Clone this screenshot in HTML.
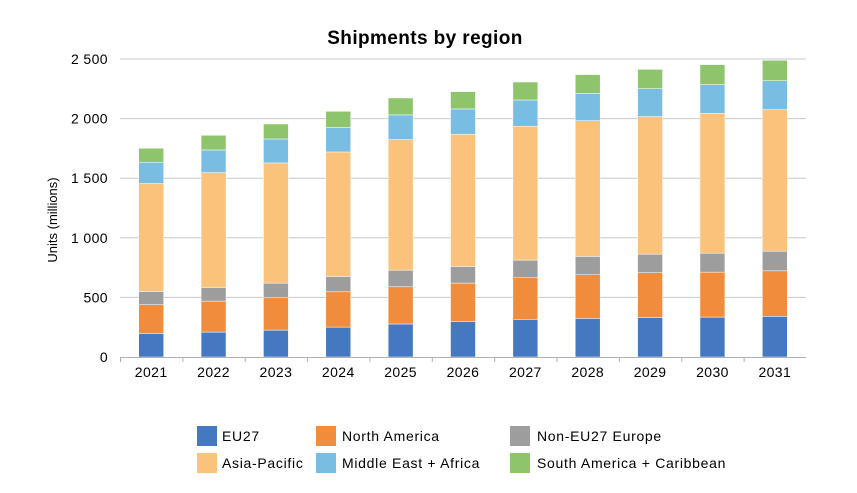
<!DOCTYPE html>
<html><head><meta charset="utf-8"><style>
body{margin:0;background:#fff;font-family:"Liberation Sans",sans-serif;}
svg{display:block}
</style></head><body>
<svg id="chart" width="857" height="493">
<text x="425" y="44" text-anchor="middle" font-size="19" font-weight="bold" fill="#000" letter-spacing="0.4">Shipments by region</text>
<text transform="translate(57,220) rotate(-90)" text-anchor="middle" font-size="13" fill="#000">Units (millions)</text>
<g id="grid"></g><g id="bars"></g><g id="axes"></g><g id="legend"></g>
</svg>
<script>
const categories=["2021","2022","2023","2024","2025","2026","2027","2028","2029","2030","2031"];
const seriesNames=["EU27","North America","Non-EU27 Europe","Asia-Pacific","Middle East + Africa","South America + Caribbean"];
const colors=["#4479c1","#f08c3c","#9d9d9d","#fac27a","#79bde3","#8ec56c"];
const eu27=[198,209,226,251,277,296,316,324,332,335,341];
const northAmerica=[241,260,271,296,312,324,349,366,375,377,382];
const nonEu27=[111,115,123,129,140,140,148,154,156,159,165];
const asiaPacific=[905,963,1008,1044,1095,1109,1123,1139,1154,1174,1187];
const middleEastAfrica=[179,190,201,205,207,212,220,229,234,240,243];
const southAmerica=[117,123,126,136,142,145,151,157,162,168,171];
const yTicks=[0,500,1000,1500,2000,2500];
const yTickLabels=["0","500","1 000","1 500","2 000","2 500"];
const series=[eu27,northAmerica,nonEu27,asiaPacific,middleEastAfrica,southAmerica];
const NS="http://www.w3.org/2000/svg";
const L=120,R=806,T=59,B=357,yMax=2500;
const y=v=>B-(v/yMax)*(B-T);
const bw=(R-L)/categories.length;
const x=i=>L+bw*i;
function mk(tag,attrs,parent,text){const e=document.createElementNS(NS,tag);for(const k in attrs)e.setAttribute(k,attrs[k]);if(text!==undefined)e.textContent=text;parent.appendChild(e);return e;}
const grid=document.getElementById('grid'),bars=document.getElementById('bars'),axes=document.getElementById('axes'),legend=document.getElementById('legend');
yTicks.forEach((t,i)=>{
  if(t>0){const g=mk('line',{x1:L,x2:R,y1:y(t),y2:y(t),stroke:'#c8c8c8','stroke-width':1},grid);
  
  }
  const tl=mk('text',{x:108,y:y(t)+5,'text-anchor':'end','font-size':14,fill:'#000','letter-spacing':0.4},axes,yTickLabels[i]);
  
  
});
const xa=mk('line',{x1:L,x2:R,y1:B+0.5,y2:B+0.5,stroke:'#b0b0b0'},axes);


categories.forEach((c,i)=>{
  const tk=mk('line',{x1:x(i)+0.5,x2:x(i)+0.5,y1:B,y2:B+5,stroke:'#b0b0b0'},axes);
  
  
  const lb=mk('text',{x:x(i)+bw/2,y:B+20,'text-anchor':'middle','font-size':14,fill:'#000','letter-spacing':0.4},axes,c);
  
  
  let acc=0;
  series.forEach((s,k)=>{
    const v=s[i];
    const r=mk('rect',{x:x(i)+bw*0.3,width:bw*0.4,y:y(acc+v),height:y(acc)-y(acc+v),fill:colors[k],stroke:'#fff','stroke-width':0.5},bars);
    
    
    acc+=v;
  });
});
const lx=[197,316,510],ly=[426,453],tx=[222,342,537];
seriesNames.forEach((n,k)=>{
  const col=k%3,row=Math.floor(k/3);
  const sw=mk('rect',{x:lx[col],y:ly[row],width:20,height:20,fill:colors[k]},legend);
  
  
  const t=mk('text',{x:tx[col],y:ly[row]+15,'font-size':14,fill:'#000','letter-spacing':0.7},legend,n);
  
  
});
</script>
</body></html>
